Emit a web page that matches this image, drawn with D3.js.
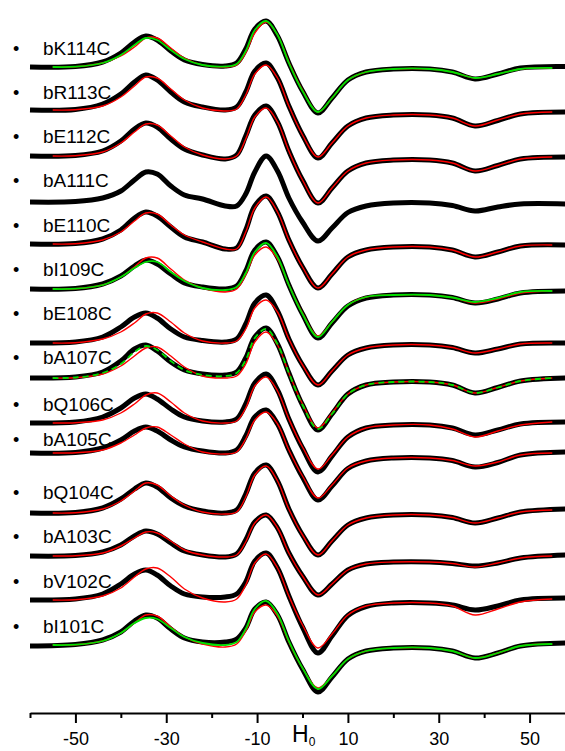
<!DOCTYPE html>
<html>
<head>
<meta charset="utf-8">
<script src="https://cdn.jsdelivr.net/npm/d3@7"></script>
<style>
  body { margin: 0; background: #fff; }
  svg { display: block; }
  text { font-family: "Liberation Sans", Arial, sans-serif; fill: #000; }
</style>
</head>
<body>
<svg width="565" height="751"></svg>
<script>
const fieldX = [-60, -50, -44, -40, -37, -34.5, -32, -29, -26, -22, -17, -14.5, -12.5, -10.5, -8, -5.5, -3, 0, 3.4, 6.5, 10, 14, 20, 28, 33, 38, 43, 48, 58];
const fitX   = [-55, -50, -44, -40, -37, -34.5, -32, -29, -26, -22, -17, -14.5, -12.5, -10.5, -8, -5.5, -3, 0, 3.4, 6.5, 10, 14, 20, 28, 33, 38, 43, 48, 55];

const mutants = ["bK114C", "bR113C", "bE112C", "bA111C", "bE110C", "bI109C", "bE108C",
                 "bA107C", "bQ106C", "bA105C", "bQ104C", "bA103C", "bV102C", "bI101C"];
// vertical stacking offset of each spectrum, and level of its name
const offsets     = [646, 603, 557, 511, 469, 424, 370, 335, 290, 260, 200, 157, 113, 68];
const labelLevels = [658, 614, 570, 526, 481, 437, 393, 349, 302, 267, 214, 170, 125, 80];

const xMajor = [-50, -30, -10, 10, 30, 50];
const xMinor = [-60, -40, -20, 0, 20, 40];

// experimental spectra (black)
const dataK114C = [0, 0.5, 5, 14, 25, 31, 27, 16, 7, 2.5, 1, 4, 18, 38, 46, 31, 4, -24, -46, -31, -13, -5, -2, -2, -5, -12, -7, -1, 0.5];
const dataR113C = [0, 0.5, 6, 16, 28, 35, 30, 18, 8, 3, 0, 3, 18, 39, 47, 32, 4, -25, -48, -33, -16, -8, -5, -5, -8, -16, -10.5, -4, -2];
const dataE112C = [0, 0.5, 5, 15, 27, 33, 29, 17, 7, 1, -3, 1, 20, 41, 50, 34, 5, -24, -47, -32, -15, -7, -4, -4, -7, -15, -9.5, -3, -1];
const dataA111C = [0, 0.5, 4, 11, 22, 30, 28, 16, 7, 3, -4, -4, 8, 30, 46, 31, 4, -20, -39, -26, -10.5, -4, -1, -1, -3.5, -9, -5, -2, -2];
const dataE110C = [0, 0.5, 5, 14, 26, 32, 28, 17, 7, 2, -5, -4, 14, 38, 48, 32, 4, -23, -44, -30, -13, -6, -3, -3, -6, -13, -8, -2, -1];
const dataI109C = [0, 0.5, 5, 13, 23, 29, 25, 15, 6, 2, 0, 3, 18, 39, 47, 32, 4, -25, -49, -34, -17, -9, -6, -6, -8.5, -14, -10, -4, -2];
const dataE108C = [0, 1, 6, 16, 26, 30, 25, 14, 6, 2.5, 1, 4, 19, 40, 48, 32, 4, -22, -42, -28, -12, -5, -2, -2, -4.5, -10, -6, -1, 0];
const dataA107C = [0, 1, 6, 17, 29, 33, 27, 16, 8, 4, 3, 6, 20, 41, 50, 34, 5, -27, -52, -36, -16, -7, -4, -4, -7, -15, -9.5, -3, 0];
const dataQ106C = [0, 1, 6, 15, 25, 29, 24, 14, 6, 2, 1, 4, 19, 40, 49, 33, 4, -25, -49, -33, -14, -5, -2, -2, -5, -12, -7, -1, 1];
const dataA105C = [0, 0.5, 5, 13, 22, 26, 22, 13, 6, 2, 0, 3, 17, 36, 43, 29, 3, -24, -47, -33, -15.5, -8, -5, -5, -7.5, -14, -9.5, -2, 1];
const dataQ104C = [0, 0.5, 5, 14, 24, 30, 26, 15, 7, 2, 0, 3, 19, 40, 48, 32, 4, -22, -42, -28, -12, -5, -2, -2, -4.5, -10, -5, 1, 4];
const dataA103C = [0, 0.5, 4, 11, 20, 25, 22, 13, 5, 1, -1, 2, 16, 34, 41, 28, 3, -20, -39, -28, -14, -8, -6, -6, -7.5, -10, -7, -2, 1];
const dataV102C = [0, 1, 6, 16, 26, 30, 25, 14, 6, 3, 3, 6, 18, 39, 47, 32, 4, -27, -53, -36, -15.5, -6.5, -3, -3, -5, -10, -6, 0, 2];
const dataI101C = [-1, 0.5, 5, 13, 24, 30, 27, 16, 7, 3, 3, 6, 17, 36, 43, 30, 3, -24, -47, -32, -14, -6, -3, -3, -6, -13, -8, -1, 2];

// simulated fits (red)
const redK114C = [0, 0.3, 4, 11, 20, 29, 29, 19, 9, 2, 0, 2, 14, 34, 45, 32, 5, -23, -45, -31, -13, -5, -2, -2, -5, -11, -7, -2, -1];
const redR113C = [0, 0.3, 4, 13, 24, 33, 32, 21, 10, 2, -1, 1, 15, 36, 45, 32, 4, -25, -47, -33, -16, -8, -5, -5, -8, -16, -10, -4, -2];
const redE112C = [0, 0.3, 4, 13, 24, 32, 31, 20, 9, 1, -3, 0, 17, 39, 48, 34, 5, -24, -47, -32, -15, -7, -4, -4, -7, -15, -9.5, -3, -1];
const redE110C = [0, 0.3, 4, 12, 23, 31, 30, 19, 9, 2, -5, -5, 12, 36, 47, 32, 4, -23, -44, -30, -13, -6, -3, -3, -6, -13, -8, -2, -1];
const redI109C = [0, 0.3, 4, 12, 22, 31, 31, 20, 9, 1, -3, 0, 14, 34, 42, 30, 4, -24, -47, -33, -16, -8, -6, -6, -8.5, -14, -10, -4, -2];
const redE108C = [0, 0.3, 4, 11, 20, 29, 30, 21, 10, 2, 0, 2, 14, 35, 43, 31, 4, -22, -42, -28, -12, -5, -2, -2, -4.5, -10, -6, -1, 0];
const redA107C = [0, 0.3, 4, 12, 22, 30, 31, 22, 11, 2, 0, 2, 14, 36, 46, 33, 5, -26, -50, -35, -16, -7, -4, -4, -7, -15, -9.5, -3, 0];
const redQ106C = [0, 0.3, 3, 10, 19, 28, 30, 21, 10, 2, 0, 2, 15, 37, 46, 32, 4, -24, -46, -32, -14, -5, -2, -2, -6, -14, -8, -2, 1];
const redA105C = [0, 0.3, 3, 10, 18, 25, 26, 18, 9, 1, -1, 1, 14, 33, 41, 29, 3, -23, -45, -32, -15, -8, -5, -5, -7.5, -13, -9, -2, 0];
const redQ104C = [0, 0.3, 4, 12, 22, 30, 28, 17, 8, 1, -1, 1, 16, 38, 47, 32, 4, -22, -42, -28, -12, -5, -2, -2, -4.5, -10, -5, 1, 3];
const redA103C = [0, 0.3, 3, 10, 18, 24, 23, 15, 6, 1, -1, 1, 14, 33, 41, 28, 3, -20, -39, -28, -14, -8, -6, -6, -7.5, -11, -7, -2, 0];
const redV102C = [0, 0.3, 4, 12, 23, 31, 32, 23, 11, 2, -2, 1, 15, 37, 46, 32, 4, -25, -48, -34, -15, -6, -3, -3, -6, -15, -9, -2, 1];
const redI101C = [0, 0.3, 4, 12, 22, 30, 29, 18, 8, 1, -2, 1, 14, 33, 40, 29, 3, -23, -43, -31, -14, -6, -3, -3, -6, -13, -8, -1, 1];

// second fits (green)
const greenK114C = [0, 0.3, 4, 12, 22, 29, 27, 17, 8, 2, 0.5, 3, 16, 37, 46, 32, 4, -24, -45, -31, -13, -5, -2, -2, -5, -11, -7, -2, -1];
const greenI109C = [0, 0.3, 4, 12, 21, 27, 27, 17, 8, 1, -1, 2, 16, 37, 46, 32, 4, -25, -48, -33, -16, -8, -6, -6, -8.5, -13, -9, -3, -2];
const greenA107C = [0, 0.5, 5, 14, 26, 32, 28, 17, 8, 3, 2, 5, 18, 40, 49, 34, 5, -27, -51, -36, -16, -7, -4, -4, -7, -15, -9.5, -3, 0];
const greenI101C = [0, 0.3, 4, 12, 22, 27, 26, 17, 8, 2, 0, 3, 16, 36, 44, 31, 4, -23, -44, -31, -14, -6, -3, -3, -6, -13, -8, -1, 1];

const blackSeries = [dataK114C, dataR113C, dataE112C, dataA111C, dataE110C, dataI109C, dataE108C,
                     dataA107C, dataQ106C, dataA105C, dataQ104C, dataA103C, dataV102C, dataI101C];
const redSeries = [redK114C, redR113C, redE112C, null, redE110C, redI109C, redE108C,
                   redA107C, redQ106C, redA105C, redQ104C, redA103C, redV102C, redI101C];
const greenSeries = [greenK114C, null, null, null, null, greenI109C, null,
                     greenA107C, null, null, null, null, null, greenI101C];

var svg = d3.select("svg");

var x = d3.scaleLinear().domain([-60, 57.8]).range([30, 565]);
var y = d3.scaleLinear().domain([0, 713]).range([713, 0]);

var line = d3.line()
    .curve(d3.curveCatmullRom.alpha(0.5))
    .x(function(d) { return x(d[0]); })
    .y(function(d) { return y(d[1]); });

function pts(xs, vals, off) {
    return xs.map(function(v, i) { return [v, vals[i] + off]; });
}

var traces = mutants.map(function(name, i) {
    return {name: name, off: offsets[i], label: labelLevels[i],
            black: blackSeries[i], red: redSeries[i], green: greenSeries[i]};
});

var g = svg.append("g");

// black experimental traces first
g.selectAll(".data")
    .data(traces)
    .enter().append("path")
    .attr("class", "data")
    .attr("d", function(d) { return line(pts(fieldX, d.black, d.off)); })
    .attr("fill", "none")
    .attr("stroke", "#000")
    .attr("stroke-width", 5)
    .attr("stroke-linejoin", "round");

g.selectAll(".red")
    .data(traces.filter(function(d) { return d.red; }))
    .enter().append("path")
    .attr("class", "red")
    .attr("d", function(d) { return line(pts(fitX, d.red, d.off)); })
    .attr("fill", "none")
    .attr("stroke", "#ff0000")
    .attr("stroke-width", 1.4);

g.selectAll(".green")
    .data(traces.filter(function(d) { return d.green; }))
    .enter().append("path")
    .attr("class", "green")
    .attr("d", function(d) { return line(pts(fitX, d.green, d.off)); })
    .attr("fill", "none")
    .attr("stroke", "#00e000")
    .attr("stroke-width", 1.8)
    .attr("stroke-dasharray", function(d) { return d.name == "bA107C" ? "6,4" : null; });

// names with bullets
var lab = svg.selectAll(".lab")
    .data(traces)
    .enter().append("g")
    .attr("class", "lab")
    .attr("transform", function(d) { return "translate(0," + y(d.label) + ")"; });

lab.append("text")
    .attr("x", 13)
    .attr("font-size", 18)
    .text("\u2022");

lab.append("text")
    .attr("x", 43)
    .attr("font-size", 19)
    .text(function(d) { return d.name; });

// x axis
var axisY = y(0);
var minorAxis = svg.append("g")
    .attr("transform", "translate(0," + axisY + ")")
    .call(d3.axisBottom(x).tickValues(xMinor).tickSize(5).tickSizeOuter(0).tickFormat(""));
minorAxis.select(".domain").remove();

var majorAxis = svg.append("g")
    .attr("transform", "translate(0," + axisY + ")")
    .call(d3.axisBottom(x).tickValues(xMajor).tickSize(10).tickSizeOuter(0).tickPadding(9)
        .tickFormat(function(d) { return String(d); }));

svg.selectAll(".domain, .tick line")
    .attr("stroke", "#000")
    .attr("stroke-width", 2);

majorAxis.selectAll(".tick text")
    .attr("font-size", 18)
    .attr("font-family", "Liberation Sans, Arial, sans-serif")
    .attr("fill", "#000");

var h0 = svg.append("text")
    .attr("x", 292)
    .attr("y", 742)
    .attr("font-size", 23);
h0.append("tspan").text("H");
h0.append("tspan").attr("font-size", 12).attr("dy", 4).text("0");
</script>
</body>
</html>
